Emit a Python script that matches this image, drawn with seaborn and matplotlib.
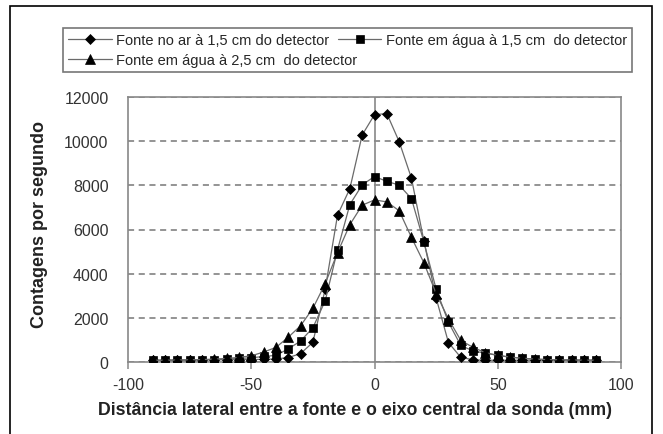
import matplotlib
matplotlib.use("Agg")
import matplotlib.pyplot as plt
import seaborn as sns
import pandas as pd
from matplotlib.patches import Rectangle

# ---- data ----
x_mm = list(range(-90, 95, 5))
ar_15 = [80, 80, 90, 90, 100, 100, 100, 110, 110, 120, 140, 200, 380, 890, 3300,
         6650, 7850, 10280, 11200, 11250, 9980, 8320, 5500, 2900, 880, 210, 100,
         80, 80, 80, 80, 80, 80, 80, 80, 80, 80]
agua_15 = [70, 70, 80, 90, 100, 110, 130, 160, 190, 250, 300, 590, 950, 1550, 2770,
           5080, 7130, 8020, 8400, 8180, 8010, 7400, 5450, 3300, 1800, 750, 500,
           400, 300, 220, 170, 130, 110, 100, 90, 80, 80]
agua_25 = [80, 80, 90, 100, 110, 130, 160, 210, 280, 450, 660, 1120, 1640, 2430, 3550,
           4950, 6220, 7100, 7340, 7250, 6850, 5640, 4500, 3100, 1950, 980, 660,
           420, 300, 220, 170, 130, 110, 100, 90, 80, 80]
series_labels = ["Fonte no ar à 1,5 cm do detector",
                 "Fonte em água à 1,5 cm  do detector",
                 "Fonte em água à 2,5 cm  do detector"]
x_ticks = [-100, -50, 0, 50, 100]
y_ticks = [0, 2000, 4000, 6000, 8000, 10000, 12000]
x_title = "Distância lateral entre a fonte e o eixo central da sonda (mm)"
y_title = "Contagens por segundo"

sns.set_theme(style="white")
plt.rcParams['font.family'] = ['Liberation Sans', 'DejaVu Sans']

W, H = 663, 435
fig = plt.figure(figsize=(W / 100, H / 100), dpi=100)
ax = fig.add_axes([128 / W, 1 - 363 / H, (621 - 128) / W, (363 - 98) / H])

styles = [("D", 5.2), ("s", 5.8), ("^", 6.5)]
for vals, (mk, ms), lab in zip([ar_15, agua_15, agua_25], styles, series_labels):
    df = pd.DataFrame({"x": x_mm, "y": vals})
    sns.lineplot(data=df, x="x", y="y", ax=ax, color="#6a6a6a", linewidth=0.9,
                 marker=mk, markersize=ms, markerfacecolor="black",
                 markeredgecolor="black", markeredgewidth=0.5, zorder=3)

handles = list(ax.get_lines()[:3])
for h in handles:
    h.set_markerfacecolor("black")
    h.set_markeredgecolor("black")

ax.set_xlim(-100, 100)
ax.set_ylim(0, 12000)
ax.set_xticks(x_ticks)
ax.set_yticks(y_ticks)
ax.set_xticklabels([str(t) for t in x_ticks])
ax.set_yticklabels([str(t) for t in y_ticks])
ax.set_xlabel("")
ax.set_ylabel("")

ax.grid(axis="y", linestyle=(0, (4, 3)), color="#777777", linewidth=1.1, zorder=1)
ax.grid(axis="x", visible=False)
ax.axvline(0, color="#888888", linewidth=1.2, zorder=2)

for s in ax.spines.values():
    s.set_visible(True)
    s.set_color("#888888")
    s.set_linewidth(1.2)

ax.tick_params(axis="x", direction="out", length=5, width=1.1, color="#888888",
               labelsize=11.5, labelcolor="#333333", pad=6, bottom=True)
ax.tick_params(axis="y", length=0, labelsize=11.5, labelcolor="#333333", pad=14)

fig.text(355 / W, 1 - 411 / H, x_title, ha="center", va="center",
         fontsize=12.8, fontweight="bold", color="#222222")
fig.text(40 / W, 1 - 224 / H, y_title, ha="center", va="center", rotation=90,
         fontsize=13, fontweight="bold", color="#222222")

leg = fig.legend([handles[0], handles[2], handles[1]],
                 [series_labels[0], series_labels[2], series_labels[1]],
                 ncol=2, loc="center",
                 bbox_to_anchor=(63 / W, 1 - 77 / H, (632 - 63) / W, 52 / H),
                 mode="expand", frameon=True, fancybox=False, fontsize=10.5,
                 handlelength=3.0, handletextpad=0.3, borderaxespad=0,
                 labelspacing=0.45, borderpad=0.35, columnspacing=1.0)
leg.get_frame().set_edgecolor("#555555")
leg.get_frame().set_linewidth(1.2)

fig.patches.append(Rectangle((10 / W, -0.05), (652 - 10) / W, 1 - 7 / H + 0.05,
                             transform=fig.transFigure, fill=False,
                             edgecolor="black", linewidth=1.2))

fig.savefig("out.png", dpi=100)
